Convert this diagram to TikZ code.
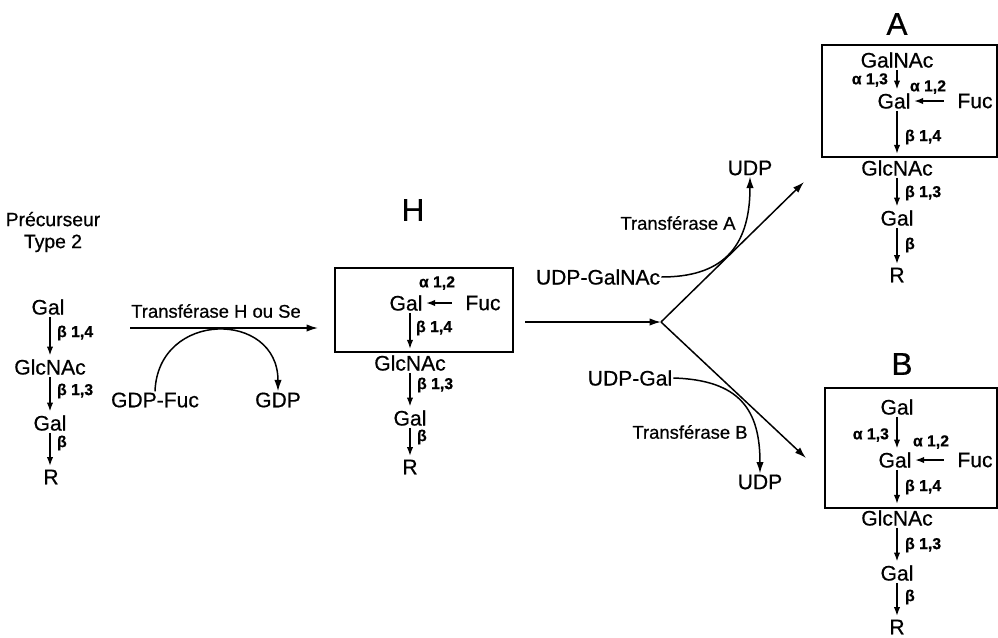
\documentclass[tikz,border=0pt]{standalone}
\usepackage{fontspec}
\setmainfont{Liberation Sans}[FakeBold=0.6]
\usetikzlibrary{arrows.meta,positioning,calc}

\begin{document}
\begin{tikzpicture}[
    x=0.02cm, y=-0.02cm,
    >=Latex,
    sugar/.style={
        inner sep=0.5pt,
        font=\fontsize{12}{14}\selectfont
    },
    linklabel/.style={
        inner sep=1pt,
        font=\bfseries\fontsize{9}{10}\selectfont
    },
    enzyme/.style={
        inner sep=1pt,
        font=\fontsize{10.5}{12}\selectfont
    },
    antigen/.style={
        inner sep=1pt,
        font=\fontsize{18}{20}\selectfont
    },
    bond/.style={
        -{Latex[length=5pt,width=3.6pt]},
        line width=0.75pt,
        shorten >=1.5pt,
        shorten <=0.5pt
    },
    fucbond/.style={
        bond,
        shorten <=7pt
    },
    flow/.style={
        -{Latex[length=6.5pt,width=4.2pt]},
        line width=0.85pt
    },
    frame/.style={
        line width=0.9pt
    }
]

\useasboundingbox (0,0) rectangle (998,637);

% precurseur type 2
\node[sugar, align=center, font=\fontsize{11}{12.5}\selectfont] (prec) at (53,232) {Précurseur\\Type 2};
\node[sugar] (pgal) at (48,307) {Gal};
\node[sugar] (pglc) at (50,367) {GlcNAc};
\node[sugar] (pgal2) at (50,423) {Gal};
\node[sugar] (pr) at (51,477) {R};
\draw[bond] (pgal.south -| pglc) -- (pglc);
\draw[bond] (pglc) -- (pgal2);
\draw[bond] (pgal2) -- (pr.north -| pgal2);
\node[linklabel, anchor=west] (pl1) at (55,333) {β 1,4};
\node[linklabel, anchor=west] (pl2) at (55,391) {β 1,3};
\node[linklabel, anchor=west] (pl3) at (55,443) {β};

% transferase H
\node[enzyme] (trH) at (216,311) {Transférase H ou Se};
\coordinate (hstart) at (130,328);
\node[sugar] (gdpfuc) at (155,400) {GDP-Fuc};
\node[sugar] (gdp) at (278,400) {GDP};
\draw[flow] (hstart) -- ++(188,0);
\draw[flow] (gdpfuc.north) .. controls (158,310) and (278,310) .. (gdp.north);

% antigene H
\node[antigen] (titleH) at (413,210) {H};
\draw[frame] (335,268) rectangle (513,352);
\node[sugar] (hgal) at (406,303) {Gal};
\node[sugar] (hfuc) at (483,303) {Fuc};
\node[sugar] (hglc) at (410,363) {GlcNAc};
\node[sugar] (hgal2) at (410,418) {Gal};
\node[sugar] (hr) at (410,467) {R};
\draw[fucbond] (hfuc) -- (hgal);
\draw[bond, shorten >=3pt] (hgal.south -| hglc) -- (hglc);
\draw[bond] (hglc) -- (hgal2);
\draw[bond] (hgal2) -- (hr);
\node[linklabel] (hl0) at (437,283) {α 1,2};
\node[linklabel, anchor=west] (hl1) at (414,328) {β 1,4};
\node[linklabel, anchor=west] (hl2) at (415,385) {β 1,3};
\node[linklabel, anchor=west] (hl3) at (415,437) {β};

% bifurcation
\coordinate (hout) at (525,322);
\coordinate (fork) at (661,322);
\coordinate (toA) at (804,182);
\coordinate (toB) at (806,458);
\draw[flow] (hout) -- (fork);
\draw[flow] (fork) -- (toA);
\draw[flow] (fork) -- (toB);

\node[sugar] (udpgalnac) at (598,277) {UDP-GalNAc};
\node[enzyme] (trA) at (678,223) {Transférase A};
\node[sugar] (udpA) at (750,168) {UDP};
\draw[flow] (udpgalnac.east) .. controls (720,277) and (750,250) .. (udpA.south);

\node[sugar] (udpgal) at (630,378) {UDP-Gal};
\node[enzyme] (trB) at (690,432) {Transférase B};
\node[sugar] (udpB) at (760,482) {UDP};
\draw[flow] (udpgal.east) .. controls (740,380) and (760,410) .. (udpB.north);

% antigene A
\node[antigen] (titleA) at (897,24) {A};
\draw[frame] (822,45) rectangle (997,157);
\node[sugar] (agalnac) at (897,60) {GalNAc};
\node[sugar] (agal) at (894,101) {Gal};
\node[sugar] (afuc) at (975,101) {Fuc};
\node[sugar] (aglc) at (897,168) {GlcNAc};
\node[sugar] (agal2) at (897,218) {Gal};
\node[sugar] (ar) at (897,275) {R};
\draw[bond] (agalnac) -- (agalnac |- agal.north);
\draw[fucbond] (afuc) -- (agal);
\draw[bond, shorten >=3pt] (agal.south -| aglc) -- (aglc);
\draw[bond] (aglc) -- (agal2);
\draw[bond] (agal2) -- (ar);
\node[linklabel, anchor=east] (al0) at (890,80) {α 1,3};
\node[linklabel] (al1) at (928,87) {α 1,2};
\node[linklabel, anchor=west] (al2) at (903,137) {β 1,4};
\node[linklabel, anchor=west] (al3) at (903,193) {β 1,3};
\node[linklabel, anchor=west] (al4) at (903,245) {β};

% antigene B
\node[antigen] (titleB) at (902,364) {B};
\draw[frame] (825,388) rectangle (997,508);
\node[sugar] (bgal0) at (897,407) {Gal};
\node[sugar] (bgal) at (895,460) {Gal};
\node[sugar] (bfuc) at (975,460) {Fuc};
\node[sugar] (bglc) at (897,518) {GlcNAc};
\node[sugar] (bgal2) at (897,573) {Gal};
\node[sugar] (br) at (897,627) {R};
\draw[bond] (bgal0) -- (bgal0 |- bgal.north);
\draw[fucbond] (bfuc) -- (bgal);
\draw[bond, shorten >=3pt] (bgal.south -| bglc) -- (bglc);
\draw[bond] (bglc) -- (bgal2);
\draw[bond] (bgal2) -- (br);
\node[linklabel, anchor=east] (bl0) at (891,435) {α 1,3};
\node[linklabel] (bl1) at (931,442) {α 1,2};
\node[linklabel, anchor=west] (bl2) at (903,487) {β 1,4};
\node[linklabel, anchor=west] (bl3) at (903,545) {β 1,3};
\node[linklabel, anchor=west] (bl4) at (903,597) {β};

\end{tikzpicture}
\end{document}
